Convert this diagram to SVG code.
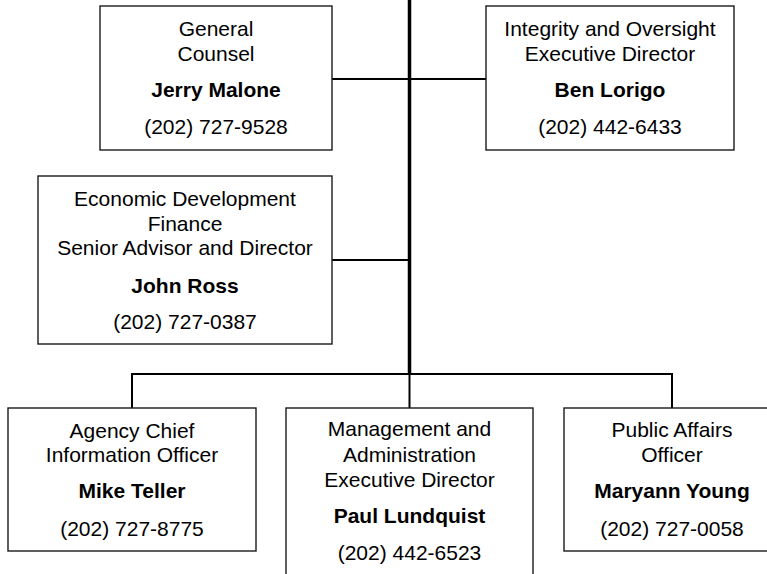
<svg xmlns="http://www.w3.org/2000/svg" width="767" height="574" viewBox="0 0 767 574">
  <style>
    .box { fill: #ffffff; stroke: #1a1a1a; stroke-width: 1.4; }
    .line { fill: none; stroke: #000000; stroke-width: 2; }
    .trunk { fill: none; stroke: #000000; stroke-width: 3.5; }
    text { font-family: "Liberation Sans", Arial, sans-serif; font-size: 21px; fill: #000000; text-anchor: middle; }
    .name { font-weight: bold; }
  </style>
  <rect width="767" height="574" fill="#ffffff"/>

  <!-- connectors -->
  <g id="connectors">
    <line class="trunk" x1="409.5" y1="0" x2="409.5" y2="374"/>
    <line class="line" x1="332" y1="79" x2="486" y2="79"/>
    <line class="line" x1="332" y1="260" x2="409.5" y2="260"/>
    <line class="line" x1="132" y1="374" x2="672" y2="374"/>
    <line class="line" x1="132" y1="373" x2="132" y2="408"/>
    <line class="line" x1="409.5" y1="373" x2="409.5" y2="408"/>
    <line class="line" x1="672" y1="373" x2="672" y2="408"/>
  </g>

  <g id="general-counsel">
    <rect class="box" x="100" y="6" width="232" height="144"/>
    <text x="216" y="36">General</text>
    <text x="216" y="61">Counsel</text>
    <text class="name" x="216" y="97">Jerry Malone</text>
    <text x="216" y="134">(202) 727-9528</text>
  </g>

  <g id="integrity-oversight">
    <rect class="box" x="486" y="6" width="248" height="144"/>
    <text x="610" y="36">Integrity and Oversight</text>
    <text x="610" y="61">Executive Director</text>
    <text class="name" x="610" y="97">Ben Lorigo</text>
    <text x="610" y="134">(202) 442-6433</text>
  </g>

  <g id="economic-development">
    <rect class="box" x="38" y="176" width="294" height="168"/>
    <text x="185" y="206">Economic Development</text>
    <text x="185" y="231">Finance</text>
    <text x="185" y="255">Senior Advisor and Director</text>
    <text class="name" x="185" y="293">John Ross</text>
    <text x="185" y="329">(202) 727-0387</text>
  </g>

  <g id="chief-information-officer">
    <rect class="box" x="8" y="408" width="248" height="143"/>
    <text x="132" y="438">Agency Chief</text>
    <text x="132" y="462">Information Officer</text>
    <text class="name" x="132" y="498">Mike Teller</text>
    <text x="132" y="536">(202) 727-8775</text>
  </g>

  <g id="management-administration">
    <rect class="box" x="286" y="408" width="247" height="180"/>
    <text x="409.5" y="436">Management and</text>
    <text x="409.5" y="462">Administration</text>
    <text x="409.5" y="487">Executive Director</text>
    <text class="name" x="409.5" y="523">Paul Lundquist</text>
    <text x="409.5" y="560">(202) 442-6523</text>
  </g>

  <g id="public-affairs">
    <rect class="box" x="564" y="408" width="220" height="143"/>
    <text x="672" y="437">Public Affairs</text>
    <text x="672" y="462">Officer</text>
    <text class="name" x="672" y="498">Maryann Young</text>
    <text x="672" y="536">(202) 727-0058</text>
  </g>
</svg>
